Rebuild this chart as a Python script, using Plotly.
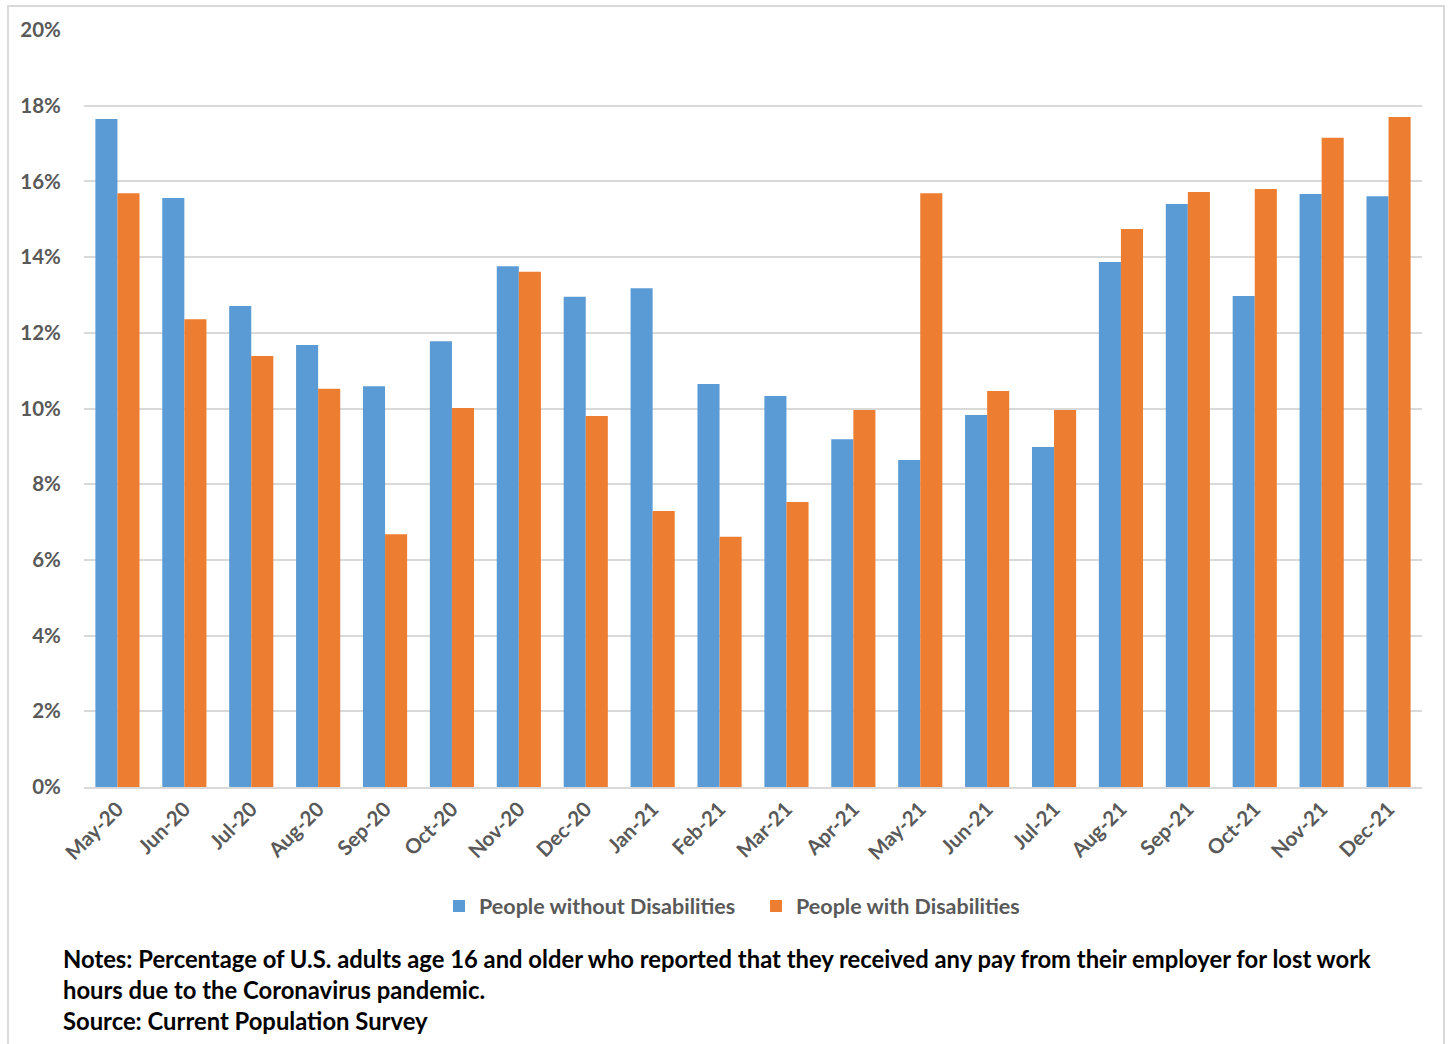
import plotly.graph_objects as go

months = ["May-20", "Jun-20", "Jul-20", "Aug-20", "Sep-20", "Oct-20", "Nov-20", "Dec-20",
          "Jan-21", "Feb-21", "Mar-21", "Apr-21", "May-21", "Jun-21", "Jul-21", "Aug-21",
          "Sep-21", "Oct-21", "Nov-21", "Dec-21"]
without_dis = [17.65, 15.56, 12.71, 11.68, 10.59, 11.78, 13.76, 12.95, 13.18, 10.65,
               10.33, 9.19, 8.64, 9.83, 8.98, 13.87, 15.40, 12.97, 15.67, 15.61]
with_dis = [15.69, 12.36, 11.39, 10.52, 6.68, 10.01, 13.61, 9.80, 7.29, 6.61,
            7.53, 9.96, 15.69, 10.46, 9.96, 14.74, 15.72, 15.80, 17.15, 17.70]
tick_vals = [0, 2, 4, 6, 8, 10, 12, 14, 16, 18, 20]
tick_text = [f"{v}%" for v in tick_vals]
notes = ["Notes: Percentage of U.S. adults age 16 and older who reported that they received any pay from their employer for lost work",
         "hours due to the Coronavirus pandemic.",
         "Source: Current Population Survey"]

FONT = "Lato"
W, H = 1448, 1044
L, R, T, B = 84, 26, 30, 257
pw, ph = W - L - R, H - T - B

def px_x(x):
    return (x - L) / pw

def px_y(y):
    return (H - B - y) / ph

fig = go.Figure()
fig.add_trace(go.Bar(x=months, y=without_dis, name="People without Disabilities",
                     marker=dict(color="#5B9BD5", line=dict(width=0))))
fig.add_trace(go.Bar(x=months, y=with_dis, name="People with Disabilities",
                     marker=dict(color="#ED7D31", line=dict(width=0))))

annotations = []
for i, line in enumerate(notes):
    annotations.append(dict(text=line, xref="paper", yref="paper",
                            x=px_x(61), y=px_y(959 + 31 * i), xanchor="left", yanchor="middle",
                            showarrow=False, font=dict(family=FONT, size=23.8, color="#000000", weight="bold")))

fig.update_layout(
    width=W, height=H,
    margin=dict(l=L, r=R, t=T, b=B),
    paper_bgcolor="white", plot_bgcolor="white",
    barmode="group", bargap=0.34, bargroupgap=0,
    font=dict(family=FONT, color="#595959"),
    xaxis=dict(tickangle=-45, tickfont=dict(size=20.5, color="#595959", weight="bold"),
               showgrid=False, showline=True, linecolor="#D9D9D9", linewidth=2,
               ticks="", ticklen=0),
    yaxis=dict(range=[0, 20], tickvals=tick_vals, ticktext=tick_text,
               tickfont=dict(size=20.5, color="#595959", weight="bold"),
               showgrid=True, gridcolor="#D9D9D9", gridwidth=2,
               zeroline=False, showline=False, ticks="outside", ticklen=18, tickcolor="white"),
    legend=dict(orientation="h", x=px_x(439), xanchor="left", y=px_y(906), yanchor="middle",
                font=dict(size=21.5, color="#595959", weight="bold"), itemwidth=30,
                entrywidth=272, entrywidthmode="pixels",
                traceorder="normal"),
    annotations=annotations,
    shapes=[dict(type="rect", xref="paper", yref="paper",
                 x0=px_x(8), x1=px_x(1444), y0=px_y(1060), y1=px_y(6),
                 line=dict(color="#D9D9D9", width=2), fillcolor="rgba(0,0,0,0)", layer="below")],
)

fig.write_html("out.html")
